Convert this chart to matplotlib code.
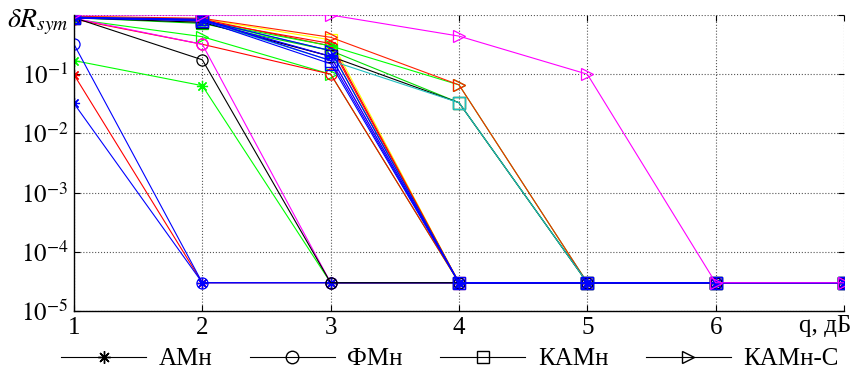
import matplotlib
matplotlib.use("Agg")
import matplotlib.pyplot as plt
from matplotlib.lines import Line2D

plt.rcParams['font.family'] = ['Liberation Serif', 'DejaVu Serif']
plt.rcParams['mathtext.fontset'] = 'stix'

# q, dB
q = [1, 2, 3, 4, 5, 6, 7]

# --- АМн (star) ---
am_blue1 = [0.032, 3e-5, 3e-5, 3e-5, 3e-5, 3e-5, 3e-5]
am_red1 = [0.098, 3e-5, 3e-5, 3e-5, 3e-5, 3e-5, 3e-5]
am_green1 = [0.17, 0.064, 3e-5, 3e-5, 3e-5, 3e-5, 3e-5]
am_blue2 = [0.88, 0.82, 0.2, 3e-5, 3e-5, 3e-5, 3e-5]
am_red2 = [0.9, 0.85, 0.3, 3e-5, 3e-5, 3e-5, 3e-5]

# --- ФМн (circle) ---
fm_blue = [0.32, 3e-5, 3e-5, 3e-5, 3e-5, 3e-5, 3e-5]
fm_black = [0.9, 0.175, 3e-5, 3e-5, 3e-5, 3e-5, 3e-5]
fm_magenta = [0.88, 0.32, 3e-5, 3e-5, 3e-5, 3e-5, 3e-5]
fm_red = [0.85, 0.32, 0.1, 3e-5, 3e-5, 3e-5, 3e-5]
fm_green = [0.9, 0.8, 0.25, 3e-5, 3e-5, 3e-5, 3e-5]

# --- КАМн (square) ---
qam_blue1 = [0.92, 0.85, 0.17, 3e-5, 3e-5, 3e-5, 3e-5]
qam_blue2 = [0.9, 0.8, 0.15, 3e-5, 3e-5, 3e-5, 3e-5]
qam_magenta = [0.9, 0.78, 0.2, 3e-5, 3e-5, 3e-5, 3e-5]
qam_yellow = [0.95, 0.86, 0.38, 3e-5, 3e-5, 3e-5, 3e-5]
qam_black = [0.9, 0.75, 0.2, 0.033, 3e-5, 3e-5, 3e-5]
qam_cyan = [0.92, 0.8, 0.17, 0.033, 3e-5, 3e-5, 3e-5]
qam_green = [0.9, 0.72, 0.25, 0.033, 3e-5, 3e-5, 3e-5]

# --- КАМн-С (triangle) ---
qamc_red1 = [0.95, 0.88, 0.42, 0.066, 3e-5, 3e-5, 3e-5]
qamc_green1 = [0.9, 0.78, 0.3, 0.066, 3e-5, 3e-5, 3e-5]
qamc_green2 = [0.85, 0.43, 0.1, 3e-5, 3e-5, 3e-5, 3e-5]
qamc_blue = [0.9, 0.82, 0.25, 3e-5, 3e-5, 3e-5, 3e-5]
qamc_red2 = [0.92, 0.8, 0.33, 3e-5, 3e-5, 3e-5, 3e-5]
qamc_magenta = [1.0, 1.0, 1.0, 0.44, 0.1, 3e-5, 3e-5]

legend_labels = ['АМн', 'ФМн', 'КАМн', 'КАМн-С']

STAR = (8, 2, 0)   # asterisk like MATLAB '*'
legend_markers = [STAR, 'o', 's', '>']

series = [
    (qam_yellow, '#ffff00', 's'),
    (qamc_red2, '#ff0000', '>'),
    (am_red2, '#ff0000', STAR),
    (fm_green, '#00ff00', 'o'),
    (qam_green, '#00dd00', 's'),
    (qamc_green1, '#00ff00', '>'),
    (qamc_red1, '#ff2000', '>'),
    (qam_magenta, '#ff00ff', 's'),
    (qam_black, '#000000', 's'),
    (qam_cyan, '#20c0c0', 's'),
    (qamc_green2, '#00ff00', '>'),
    (fm_red, '#ff0000', 'o'),
    (am_green1, '#00ff00', STAR),
    (fm_magenta, '#ff00ff', 'o'),
    (am_red1, '#ff0000', STAR),
    (am_blue1, '#0000ff', STAR),
    (fm_blue, '#0000ff', 'o'),
    (fm_black, '#000000', 'o'),
    (am_blue2, '#0000ff', STAR),
    (qamc_blue, '#0000ff', '>'),
    (qam_blue2, '#0000ff', 's'),
    (qam_blue1, '#0000ff', 's'),
    (qamc_magenta, '#ff00ff', '>'),
]

fig = plt.figure(figsize=(8.58, 3.81), dpi=100)
ax = fig.add_axes([74/858, 1-311/381, (844-74)/858, (311-15)/381])

for vals, col, mk in series:
    ax.plot(q, vals, color=col, marker=mk, markersize=8, markerfacecolor='none',
            markeredgecolor=col, linewidth=0.8, markeredgewidth=0.9)

ax.set_yscale('log')
ax.set_xlim(1, 7)
ax.set_ylim(1e-5, 1)
ax.set_xticks([1, 2, 3, 4, 5, 6, 7])
ax.set_xticklabels(['1', '2', '3', '4', '5', '6', ''])
ax.set_yticks([1e-5, 1e-4, 1e-3, 1e-2, 1e-1, 1])
ax.set_yticklabels([r'$10^{-5}$', r'$10^{-4}$', r'$10^{-3}$', r'$10^{-2}$', r'$10^{-1}$', ''])
ax.yaxis.set_minor_locator(matplotlib.ticker.NullLocator())
ax.tick_params(axis='both', which='major', direction='in', labelsize=18, length=4,
               width=0.8, pad=4, top=True, right=True)
ax.grid(True, which='major', color='#555555', linestyle=':', linewidth=0.8)
for s in ['top', 'right']:
    ax.spines[s].set_visible(False)
for s in ['left', 'bottom']:
    ax.spines[s].set_linewidth(1.0)

fig.text(38/858, 1-22/381, r'$\delta R_{sym}$', fontsize=20, ha='center', va='center')
fig.text(851/858, 1-326/381, 'q, дБ', fontsize=18, ha='right', va='center')

handles = [Line2D([0], [0], color='black', marker=m, markersize=9, markerfacecolor='none',
                  linewidth=0.8) for m in legend_markers]
fig.legend(handles, legend_labels, loc='center', bbox_to_anchor=(450/858, 1-359/381),
           ncol=4, frameon=False, fontsize=18, handlelength=3.4, handletextpad=0.5,
           columnspacing=1.5, borderpad=0.1)

fig.savefig('out.png', dpi=100)
